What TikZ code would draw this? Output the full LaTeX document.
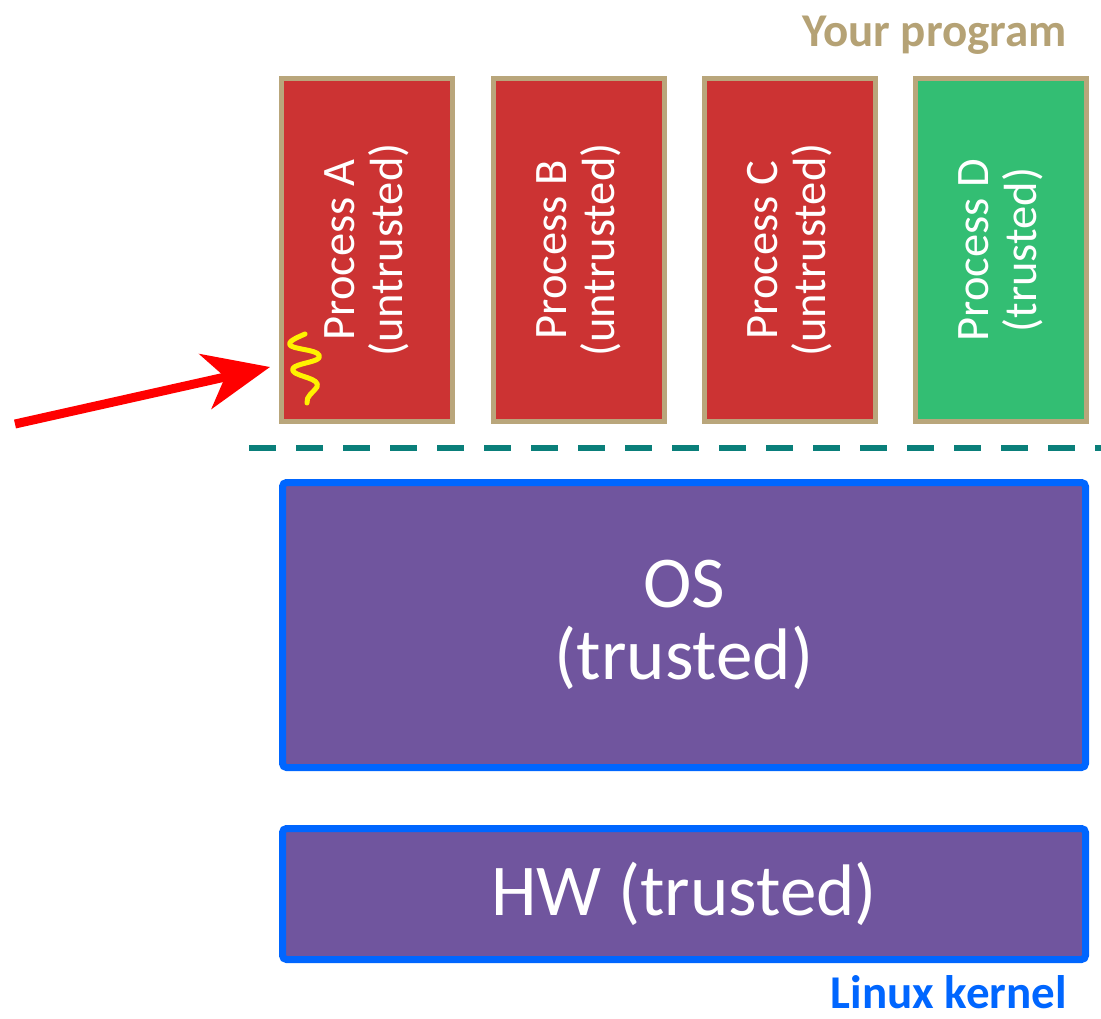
\documentclass[tikz,border=0pt]{standalone}
\usepackage{fontspec}
\setmainfont{Carlito}
\usetikzlibrary{arrows.meta}
\definecolor{procred}{HTML}{CC3333}
\definecolor{procgreen}{HTML}{33BE73}
\definecolor{procedge}{HTML}{B9A67B}
\definecolor{kernfill}{HTML}{70559E}
\definecolor{kernedge}{HTML}{0066FF}
\definecolor{septeal}{HTML}{0A7F7A}
\definecolor{progtan}{HTML}{B5A275}
\tikzset{
  procbox/.style={draw=procedge, line width=5pt, rotate=90, minimum width=343pt,
    minimum height=171pt, inner sep=0pt, align=center, text=white,
    font=\fontsize{46.5}{48}\selectfont},
  kernbox/.style={draw=kernedge, fill=kernfill, line width=7pt, rounded corners=4pt,
    minimum width=803pt, inner sep=0pt, align=center, text=white,
    font=\fontsize{73}{72}\selectfont},
  caption/.style={anchor=base east, inner sep=0pt, font=\bfseries\fontsize{47}{47}\selectfont}
}
\begin{document}
\begin{tikzpicture}[x=1pt,y=-1pt]
\useasboundingbox (0,0) rectangle (1101,1018);

% user-space processes
\node[procbox, fill=procred]   (pa) at (367,250) {Process A\\(untrusted)};
\node[procbox, fill=procred]   (pb) at (578.5,250) {Process B\\(untrusted)};
\node[procbox, fill=procred]   (pc) at (790,250) {Process C\\(untrusted)};
\node[procbox, fill=procgreen] (pd) at (1001,250) {Process D\\(trusted)};

% user / kernel boundary
\draw[septeal, line width=6pt, dash pattern=on 27pt off 20pt] (249,448) -- (1101,448);

% kernel and hardware
\node[kernbox, minimum height=285pt] (os) at (684,625) {OS\\(trusted)};
\node[kernbox, minimum height=131pt] (hw) at (684,894) {HW (trusted)};

% labels
\node[caption, text=progtan] (lprog) at (1067,46) {Your program};
\node[caption, text=kernedge] (lkern) at (1067,1008) {Linux kernel};

% attack arrow and bug squiggle
\coordinate (atk) at (15,424);
\coordinate (hit) at (270,367);
\draw[red, line width=9pt, -{Stealth[length=66pt, width=56pt, inset=20pt]}] (atk) -- (hit);
\draw[yellow, line width=5pt, line cap=round, line join=round]
  (305,334) .. controls (296,338) and (286,342) .. (291,346)
  .. controls (298,350) and (323,350) .. (319,358)
  .. controls (315,363) and (289,364) .. (293,371)
  .. controls (297,377) and (321,378) .. (317,387)
  .. controls (313,393) and (306,396) .. (307,403);
\end{tikzpicture}
\end{document}
